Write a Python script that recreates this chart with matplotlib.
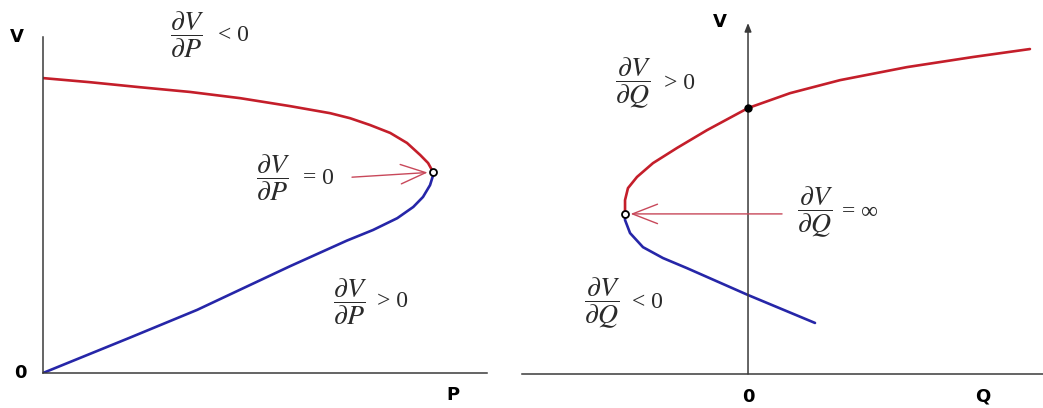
import matplotlib
matplotlib.use("Agg")
import matplotlib.pyplot as plt

plt.rcParams["mathtext.fontset"] = "stix"

# PV nose curve (P normalised to the nose, V to no-load voltage)
pv_upper_p = [0.0, 0.121, 0.249, 0.377, 0.505, 0.633, 0.736, 0.787, 0.838, 0.890,
              0.933, 0.967, 0.987, 1.0]
pv_upper_v = [1.0, 0.986, 0.969, 0.953, 0.932, 0.905, 0.881, 0.864, 0.841, 0.814,
              0.780, 0.739, 0.712, 0.681]
pv_lower_p = [0.0, 0.223, 0.395, 0.633, 0.779, 0.846, 0.908, 0.949, 0.974, 0.992,
              1.0, 1.0]
pv_lower_v = [0.0, 0.120, 0.214, 0.362, 0.449, 0.485, 0.525, 0.563, 0.597, 0.637,
              0.671, 0.681]
pv_nose = (1.0, 0.681)

# QV curve
qv_upper_q = [-1.008, -1.008, -0.984, -0.910, -0.779, -0.582, -0.336, 0.0, 0.344,
              0.754, 1.303, 1.844, 2.311]
qv_upper_v = [0.602, 0.654, 0.699, 0.741, 0.793, 0.850, 0.917, 1.0, 1.056,
              1.105, 1.154, 1.192, 1.222]
qv_lower_q = [-1.008, -1.008, -0.967, -0.861, -0.697, -0.5, 0.0, 0.549]
qv_lower_v = [0.602, 0.579, 0.530, 0.477, 0.436, 0.398, 0.297, 0.192]
qv_nose = (-1.008, 0.602)
qv_origin_v = 1.0

RED = "#c41e2a"
BLUE = "#2626a8"
AX = "#3a3a3a"
ARROW = "#c8485a"
TXT = "#2a2a2a"

W, H = 1043, 408
fig = plt.figure(figsize=(W / 100, H / 100), dpi=100)


def px_axes(x0, x1, y_top, y_bot):
    return fig.add_axes([x0 / W, 1 - y_bot / H, (x1 - x0) / W, (y_bot - y_top) / H])


def frac(ax, x, y, num, den, rel, relx):
    ax.text(x, y, r"$\dfrac{\partial %s}{\partial %s}$" % (num, den),
            fontsize=20, ha="center", va="center", color=TXT)
    ax.text(relx, y, rel, fontsize=17, ha="center", va="center",
            family=["Liberation Serif", "DejaVu Serif"], color=TXT)


curve_kw = dict(lw=1.9, solid_capstyle="round", solid_joinstyle="round")
label_kw = dict(fontsize=13, fontweight="bold", ha="center", va="center",
                family=["Liberation Sans Narrow", "DejaVu Sans"])

# ---- left: P-V ----
ax1 = px_axes(43, 487, 20, 373)
ax1.set_xlim(0, 1.138)
ax1.set_ylim(0, 1.197)
for s in ["top", "right"]:
    ax1.spines[s].set_visible(False)
ax1.spines["left"].set_bounds(0, 1.139)
for s in ["left", "bottom"]:
    ax1.spines[s].set_color(AX)
    ax1.spines[s].set_linewidth(1.1)
ax1.set_xticks([])
ax1.set_yticks([])
ax1.patch.set_alpha(0)

ax1.plot(pv_upper_p, pv_upper_v, color=RED, **curve_kw)
ax1.plot(pv_lower_p, pv_lower_v, color=BLUE, **curve_kw)
ax1.plot(*pv_nose, marker="o", ms=5, mfc="white", mec="black", mew=1.3, zorder=5)
ax1.annotate("", xy=pv_nose, xytext=(0.792, 0.664),
             arrowprops=dict(arrowstyle="->,head_length=1.8,head_width=0.7",
                             color=ARROW, lw=1.0, shrinkA=0, shrinkB=4))

frac(ax1, 0.369, 1.146, "V", "P", "< 0", 0.487)
frac(ax1, 0.590, 0.661, "V", "P", "= 0", 0.705)
frac(ax1, 0.787, 0.241, "V", "P", "> 0", 0.897)

fig.text(17 / W, 1 - 37 / H, "V", **label_kw)
fig.text(20 / W, 1 - 373 / H, "0", **label_kw)
fig.text(453 / W, 1 - 395 / H, "P", **label_kw)

# ---- right: Q-V ----
ax2 = px_axes(520, 1043, 15, 374)
ax2.set_xlim(-1.869, 2.418)
ax2.set_ylim(0, 1.35)
for s in ["top", "right", "left"]:
    ax2.spines[s].set_visible(False)
ax2.spines["bottom"].set_bounds(-1.852, 2.418)
ax2.spines["bottom"].set_color(AX)
ax2.spines["bottom"].set_linewidth(1.1)
ax2.set_xticks([])
ax2.set_yticks([])
ax2.patch.set_alpha(0)

ax2.annotate("", xy=(0, 1.32), xytext=(0, 0),
             arrowprops=dict(arrowstyle="-|>,head_length=0.5,head_width=0.2",
                             color=AX, lw=1.1, shrinkA=0, shrinkB=0))
ax2.plot(qv_upper_q, qv_upper_v, color=RED, **curve_kw)
ax2.plot(qv_lower_q, qv_lower_v, color=BLUE, **curve_kw)
ax2.plot(0, qv_origin_v, marker="o", ms=5, color="black", zorder=5)
ax2.plot(*qv_nose, marker="o", ms=5, mfc="white", mec="black", mew=1.3, zorder=5)
ax2.annotate("", xy=qv_nose, xytext=(0.279, 0.602),
             arrowprops=dict(arrowstyle="->,head_length=1.8,head_width=0.7",
                             color=ARROW, lw=1.0, shrinkA=0, shrinkB=4))

frac(ax2, -0.943, 1.094, "V", "Q", "> 0", -0.565)
frac(ax2, 0.549, 0.609, "V", "Q", "= \u221e", 0.915)
frac(ax2, -1.197, 0.267, "V", "Q", "< 0", -0.825)

fig.text(720 / W, 1 - 22 / H, "V", **label_kw)
fig.text(748 / W, 1 - 397 / H, "0", **label_kw)
fig.text(983 / W, 1 - 397 / H, "Q", **label_kw)

fig.savefig("out.png", dpi=100, facecolor="white")
